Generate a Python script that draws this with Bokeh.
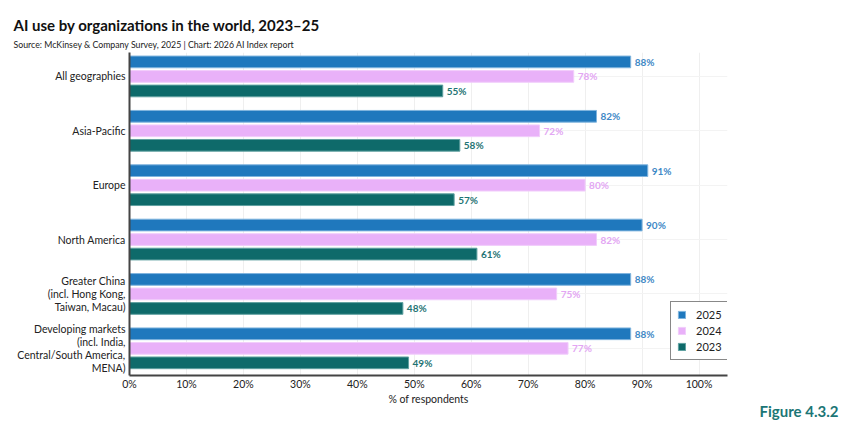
from bokeh.plotting import figure
from bokeh.models import (ColumnDataSource, FixedTicker, Legend, LegendItem,
                          NumeralTickFormatter, Title)
from bokeh.transform import dodge
from bokeh.core.properties import value
from bokeh.embed import file_html
from bokeh.resources import INLINE

# Regions, top to bottom
regions = [
    "All geographies",
    "Asia-Pacific",
    "Europe",
    "North America",
    "Greater China\n(incl. Hong Kong,\nTaiwan, Macau)",
    "Developing markets\n(incl. India,\nCentral/South America,\nMENA)",
]
years = ["2025", "2024", "2023"]
share_2025 = [88, 82, 91, 90, 88, 88]
share_2024 = [78, 72, 80, 82, 75, 77]
share_2023 = [55, 58, 57, 61, 48, 49]
x_ticks = [0, 10, 20, 30, 40, 50, 60, 70, 80, 90, 100]

FONT = "Lato"
bar_colors = {"2025": "#1f78bd", "2024": "#e9b1f9", "2023": "#0e6a6a"}
edge_colors = {"2025": "#7fb4de", "2024": "#f1cdfb", "2023": "#5fa0a0"}
label_colors = {"2025": "#3e88c6", "2024": "#e3a6f3", "2023": "#1f7474"}

W, H = 850, 426
LEFT, RIGHT, TOP, BOTTOM = 129, 123, 52, 51

n = len(regions)
ypos = [n - 1 - i for i in range(n)]
src = ColumnDataSource(dict(
    y=ypos,
    v2025=share_2025, v2024=share_2024, v2023=share_2023,
    t2025=[f"{v}%" for v in share_2025],
    t2024=[f"{v}%" for v in share_2024],
    t2023=[f"{v}%" for v in share_2023],
))

p = figure(width=W, height=H, output_backend="svg", toolbar_location=None,
           x_range=(0, 105), y_range=(-0.5, n - 0.56),
           min_border_left=LEFT, min_border_right=RIGHT,
           min_border_top=TOP, min_border_bottom=BOTTOM,
           background_fill_color="white", border_fill_color="white")
p.outline_line_color = None

offsets = {"2025": 0.267, "2024": 0.0, "2023": -0.267}
bar_h = 0.215
renderers = {}
for yr in years:
    r = p.hbar(y=dodge("y", offsets[yr]), right=f"v{yr}", left=0, height=bar_h,
               source=src, fill_color=bar_colors[yr], line_color=edge_colors[yr],
               line_width=1)
    renderers[yr] = r
    p.text(x=f"v{yr}", y=dodge("y", offsets[yr]), text=f"t{yr}", source=src,
           x_offset=4, text_baseline="middle", text_align="left",
           text_font=value(FONT), text_font_size="10px", text_font_style="bold",
           text_color=label_colors[yr])

# axes
p.xaxis.ticker = FixedTicker(ticks=x_ticks)
p.xaxis.formatter = NumeralTickFormatter(format="0")
p.xaxis.major_label_overrides = {t: f"{t}%" for t in x_ticks}
p.xaxis.axis_label = "% of respondents"
p.xaxis.axis_label_text_font = FONT
p.xaxis.axis_label_text_font_style = "normal"
p.xaxis.axis_label_text_font_size = "10.5px"
p.xaxis.axis_label_text_color = "#222222"
p.xaxis.axis_label_standoff = 0
p.xaxis.major_label_text_font = FONT
p.xaxis.major_label_text_font_size = "10.5px"
p.xaxis.major_label_text_color = "#222222"
p.xaxis.major_label_standoff = 2
p.xaxis.major_tick_out = 0
p.xaxis.major_tick_in = 0
p.xaxis.major_tick_line_color = None
p.xaxis.minor_tick_line_color = None
p.xaxis.axis_line_color = "#444444"
p.xaxis.axis_line_width = 2

p.yaxis.ticker = FixedTicker(ticks=ypos)
p.yaxis.major_label_overrides = {y: regions[i] for i, y in enumerate(ypos)}
p.yaxis.major_label_text_font = FONT
p.yaxis.major_label_text_font_size = "10.5px"
p.yaxis.major_label_text_line_height = 1.1
p.yaxis.major_label_text_color = "#222222"
p.yaxis.major_label_text_align = "right"
p.yaxis.major_label_standoff = 4
p.yaxis.major_tick_out = 0
p.yaxis.major_tick_in = 0
p.yaxis.major_tick_line_color = None
p.yaxis.minor_tick_line_color = None
p.yaxis.axis_line_color = "#444444"
p.yaxis.axis_line_width = 2

p.xgrid.ticker = FixedTicker(ticks=x_ticks)
p.xgrid.grid_line_color = "#efefef"
p.ygrid.grid_line_color = "#f3f3f3"

legend = Legend(items=[LegendItem(label=yr, renderers=[renderers[yr]]) for yr in years],
                location=(670 - LEFT, (H - BOTTOM) - 360),
                border_line_color="#111111", border_line_width=1.5,
                label_text_font=FONT, label_text_font_size="11px",
                label_text_color="#222222", glyph_width=9, glyph_height=9,
                spacing=3, padding=6, margin=0, label_standoff=10,
                label_height=12, background_fill_alpha=1)
p.add_layout(legend)

# main title on top, source line just above the frame
p.title.text = "AI use by organizations in the world, 2023–25"
p.title.text_font = FONT
p.title.text_font_style = "bold"
p.title.text_font_size = "15px"
p.title.text_color = "#111111"
p.title.align = "left"
p.title.offset = 13 - LEFT
p.title.standoff = 0

p.add_layout(Title(text="Source: McKinsey & Company Survey, 2025 | Chart: 2026 AI Index report",
                   text_font=FONT, text_font_style="normal", text_font_size="8.75px",
                   text_color="#222222", align="left", offset=13 - LEFT,
                   standoff=6), "above")

p.add_layout(Title(text="Figure 4.3.2", text_font=FONT, text_font_style="bold",
                   text_font_size="15px", text_color="#1c7676", align="right",
                   offset=(W - RIGHT) - 838, standoff=-16), "below")

open("out.html", "w").write(file_html(p, INLINE))
